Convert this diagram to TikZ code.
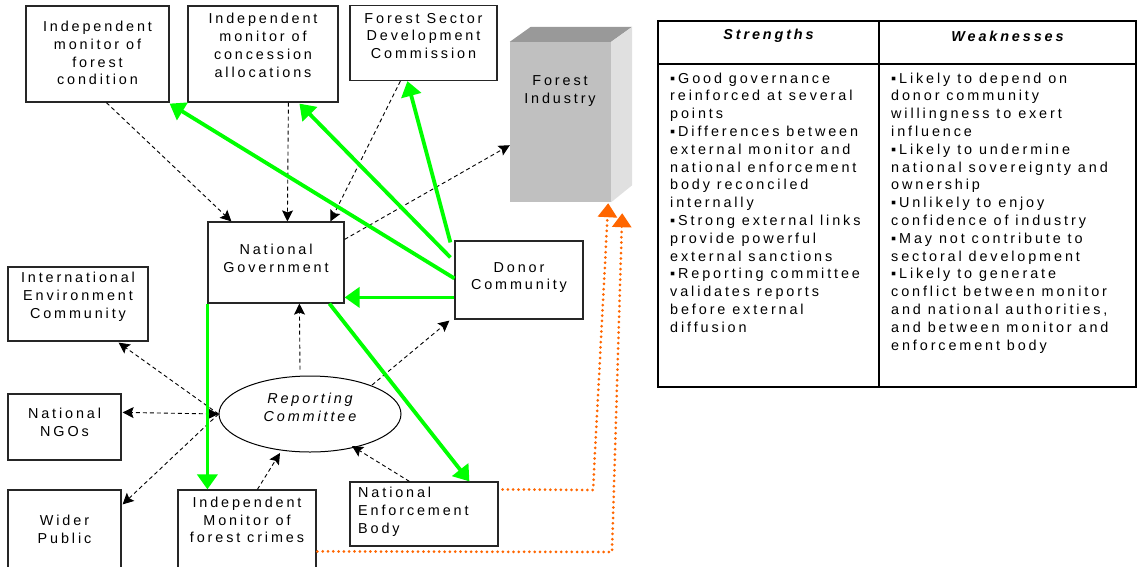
\documentclass[tikz,border=0pt]{standalone}
\usepackage{fontspec}
\setmainfont{Liberation Sans}[LetterSpace=20]
\usetikzlibrary{arrows.meta,shapes.geometric,calc}
\definecolor{grn}{RGB}{0,255,0}
\definecolor{org}{RGB}{255,102,0}
\definecolor{fiFront}{RGB}{192,192,192}
\definecolor{fiTop}{RGB}{153,153,153}
\definecolor{fiSide}{RGB}{224,224,224}
\newcommand{\fsz}{\fontsize{14.4}{17.8}\selectfont}
\begin{document}
\begin{tikzpicture}[x=1pt,y=-1pt,
 box/.style={draw=black!85, line width=1.2pt, rectangle, inner sep=0pt},
 txt/.style={font=\fsz, align=center, inner sep=0pt, text=black},
 dsh/.style={draw=black, line width=0.9pt, dash pattern=on 4pt off 3pt, -{Stealth[length=11pt,width=11pt,inset=2pt]}},
 dshb/.style={draw=black, line width=0.9pt, dash pattern=on 4pt off 3pt, {Stealth[length=11pt,width=11pt,inset=2pt]}-{Stealth[length=11pt,width=11pt,inset=2pt]}},
 grnarrow/.style={draw=grn, line width=3.8pt, -{Triangle[length=15pt,width=20pt]}},
 orgarrow/.style={draw=org, line width=3pt, line cap=round, dash pattern=on 0pt off 5.3pt, -{Triangle[length=14pt,width=19pt]}},
]
\useasboundingbox (0,0) rectangle (1138,566);
\clip (0,0) rectangle (1138,566);

% ---------- boxes ----------
\node[box, minimum width=143pt, minimum height=96pt] (imfc) at (97.5,54) {};
\node[txt] (imfct) at (97.5,53) {Independent\\monitor of\\forest\\condition};

\node[box, minimum width=150pt, minimum height=96pt] (imca) at (263,54) {};
\node[txt] (imcat) at (263,45.5) {Independent\\monitor of\\concession\\allocations};

\node[box, minimum width=147pt, minimum height=75pt] (fsdc) at (423.5,43) {};
\node[txt] (fsdct) at (423.5,36) {Forest Sector\\Development\\Commission};

\node[rectangle, fill=fiFront, minimum width=101pt, minimum height=160pt, inner sep=0pt] (fi) at (560.5,122) {};
\fill[fiTop] (fi.north west) -- (fi.north east) -- ($(fi.north east)+(21,-15)$) -- ($(fi.north west)+(21,-15)$) -- cycle;
\fill[fiSide] (fi.north east) -- ($(fi.north east)+(21,-15)$) -- ($(fi.south east)+(21,-17)$) -- (fi.south east) -- cycle;
\node[txt] (fit) at (560,91) {Forest\\Industry};

\node[box, minimum width=136pt, minimum height=81pt] (ng) at (276,262.5) {};
\node[txt] (ngt) at (276,258) {National\\Government};

\node[box, minimum width=128pt, minimum height=78pt] (donor) at (519,280) {};
\node[txt] (donort) at (519,277.5) {Donor\\Community};

\node[box, minimum width=140pt, minimum height=74pt] (iec) at (78,304) {};
\node[txt] (iect) at (78,297) {International\\Environment\\Community};

\node[box, minimum width=113pt, minimum height=66pt] (ngo) at (64.5,427) {};
\node[txt] (ngot) at (64.5,422) {National\\NGOs};

\node[box, minimum width=113pt, minimum height=110pt] (wp) at (64.5,545) {};
\node[txt] (wpt) at (64.5,529) {Wider\\Public};

\node[box, minimum width=138pt, minimum height=110pt] (imfcr) at (247,545) {};
\node[txt] (imfcrt) at (247,520) {Independent\\Monitor of\\forest crimes};

\node[box, minimum width=148pt, minimum height=64pt] (neb) at (424,514) {};
\node[txt, align=left, anchor=west] (nebt) at (358,512) {National\\Enforcement\\Body};

\node[ellipse, draw=black, line width=1pt, minimum width=182pt, minimum height=76pt, inner sep=0pt] (rc) at (310,414) {};
\node[txt, font=\fsz\itshape] (rct) at (310,407.5) {Reporting\\Committee};

% ---------- table ----------
\draw[line width=1.5pt] (658,21) rectangle (1136,387);
\draw[line width=1.3pt] (658,64) -- (1136,64);
\draw[line width=1.3pt] (879,21) -- (879,387);
\node[txt, font=\fsz\bfseries\itshape] (sh) at (768.5,36) {Strengths};
\node[txt, font=\fsz\bfseries\itshape] (wh) at (1007.5,36) {Weaknesses};
\node[txt, align=left, anchor=north west] (st) at (670,72.5) {%
▪Good governance\\reinforced at several\\points\\%
▪Differences between\\external monitor and\\national enforcement\\body reconciled\\internally\\%
▪Strong external links\\provide powerful\\external sanctions\\%
▪Reporting committee\\validates reports\\before external\\diffusion};
\node[txt, align=left, anchor=north west] (wt) at (891,72.5) {%
▪Likely to depend on\\donor community\\willingness to exert\\influence\\%
▪Likely to undermine\\national sovereignty and\\ownership\\%
▪Unlikely to enjoy\\confidence of industry\\%
▪May not contribute to\\sectoral development\\%
▪Likely to generate\\conflict between monitor\\and national authorities,\\and between monitor and\\enforcement body};

% ---------- dashed connectors ----------
\draw[dsh] ($(imfc.south west)+(81,0)$) -- ($(ng.north west)+(24,0)$);
\draw[dsh] ($(imca.south west)+(101,0)$) -- ($(ng.north west)+(80,0)$);
\draw[dsh] ($(fsdc.south west)+(51,0)$) -- ($(ng.north west)+(123,0)$);
\draw[dsh] ($(ng.north east)+(0,18)$) -- ($(fi.south west)+(0,-57)$);
\draw[dsh] ($(rc.north)+(-10,-6)$) -- ($(ng.south west)+(92,0)$);
\draw[dsh] ($(rc.center)+(62,-29)$) -- ($(donor.south west)+(-5,1)$);
\draw[dsh] ($(imfcr.north west)+(80,0)$) -- ($(rc.center)+(-30,39)$);
\draw[dsh] ($(neb.north west)+(60,0)$) -- ($(rc.center)+(42,32)$);
\draw[dshb] (rc.west) -- ($(ngo.north east)+(1,19)$);
\draw[dsh] (rc.west) -- ($(iec.south east)+(-30,1)$);
\draw[dsh] (rc.west) -- ($(wp.north east)+(1,15)$);

% ---------- green connectors ----------
\draw[grnarrow] ($(donor.north west)+(0,38)$) -- ($(imfc.south east)+(0,1)$);
\draw[grnarrow] ($(donor.north west)+(-4,17)$) -- ($(imca.south west)+(112,1)$);
\draw[grnarrow] ($(donor.north west)+(-4,2)$) -- ($(fsdc.south west)+(58,0)$);
\draw[grnarrow] ($(donor.north west)+(0,57)$) -- ($(ng.north east)+(0,76)$);
\draw[grnarrow] (ng.south west) -- ($(imfcr.north west)+(30,0)$);
\draw[grnarrow] ($(ng.south west)+(122,0)$) -- ($(neb.north west)+(120,0)$);

% ---------- orange connectors ----------
\coordinate (o1) at (593,490);
\coordinate (o2) at (612,552);
\draw[orgarrow] ($(neb.north east)+(4,8)$) -- (o1) -- ($(fi.south east)+(-3,1)$);
\draw[orgarrow] ($(imfcr.north west)+(140,62)$) -- (o2) -- ($(fi.south east)+(11,11)$);
\end{tikzpicture}
\end{document}
